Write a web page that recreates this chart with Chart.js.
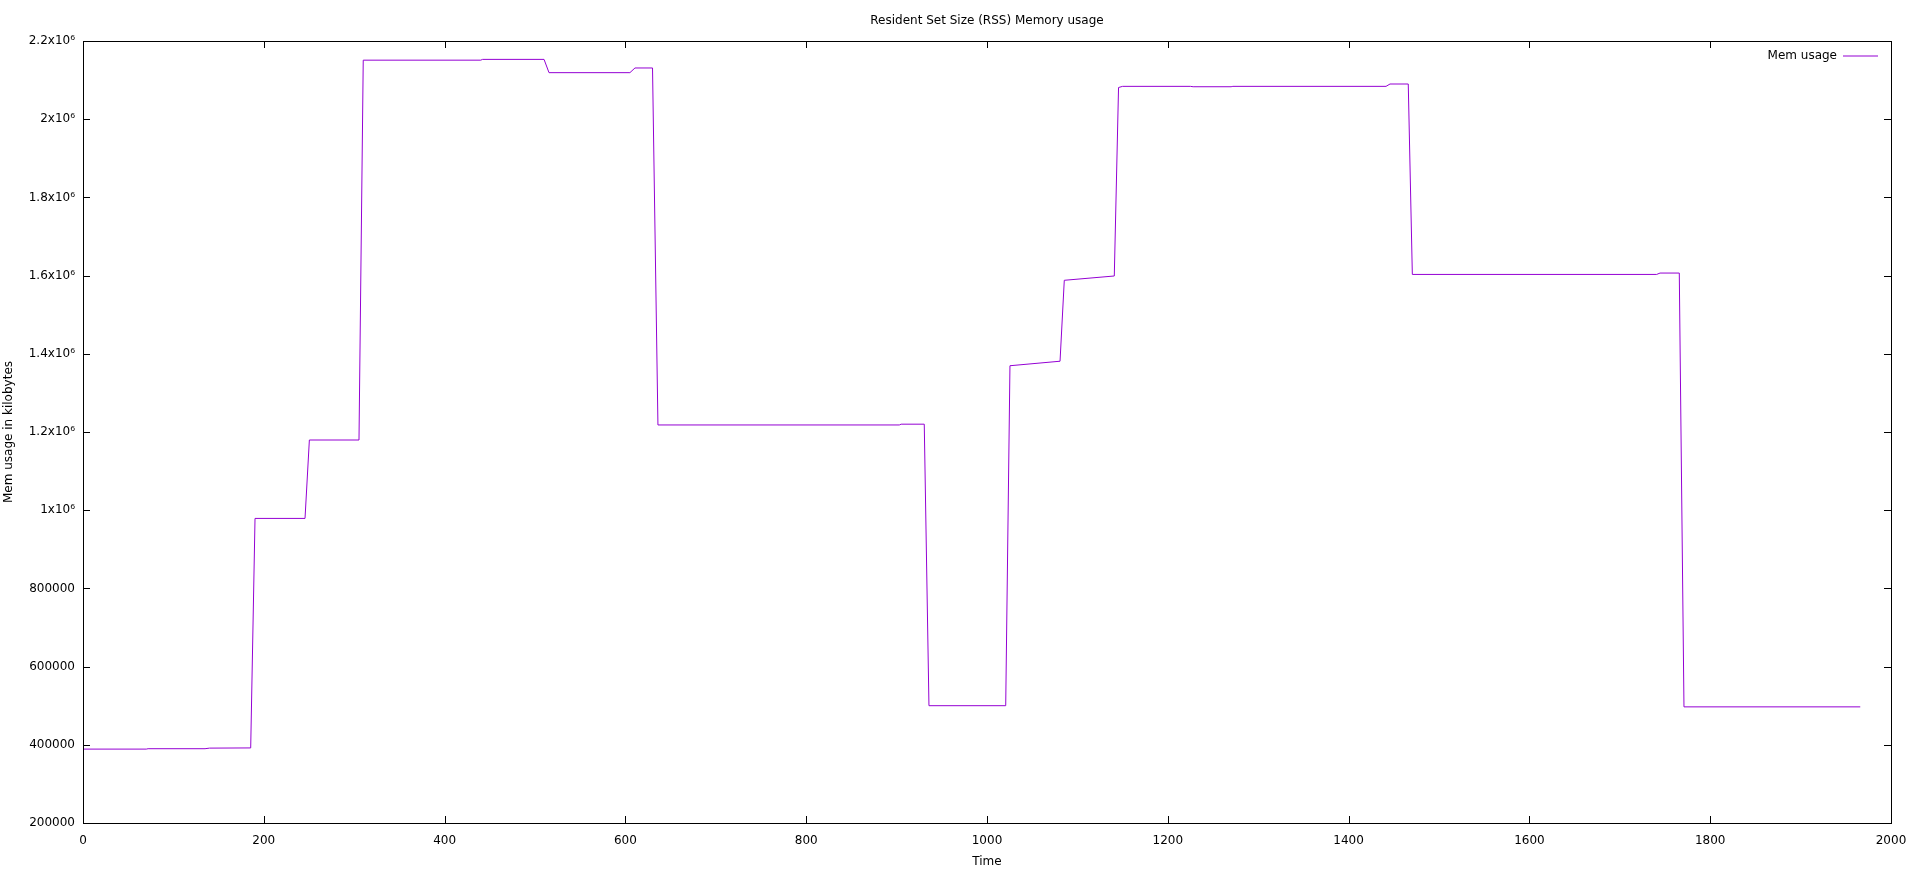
<!DOCTYPE html>
<html>
<head>
<meta charset="utf-8">
<title>Resident Set Size (RSS) Memory usage</title>
<script src="https://cdn.jsdelivr.net/npm/chart.js@4.4.1/dist/chart.umd.min.js"></script>
<style>
  html, body { margin: 0; padding: 0; background: #fff; }
  canvas { display: block; }
</style>
</head>
<body>
<canvas id="rss-chart" width="1910" height="869"></canvas>
<script>
const tiempos = [0, 70, 72, 135, 140, 185.5, 190.3, 245.6, 250.4, 305.3, 310, 440, 442, 510, 515.5,
    605, 610.6, 630, 636, 903, 905, 930.6, 935.8, 1020.7, 1025.4, 1080.8, 1085.5, 1140.8, 1145.5,
    1150, 1225, 1228, 1270, 1272, 1441.4, 1445.8, 1466, 1470.5, 1740.8, 1744.5, 1765.8, 1771, 1966];
const memoria = [389000, 389000, 390000, 390000, 391500, 392000, 979000, 979000, 1179500, 1179500,
    2151000, 2151000, 2153000, 2153000, 2119000, 2119000, 2131000, 2131000, 1218000, 1218000,
    1220000, 1220000, 500000, 500000, 1369500, 1381000, 1588000, 1599000, 2081000, 2084000,
    2084000, 2083000, 2083000, 2084000, 2084000, 2090000, 2090000, 1603000, 1603000, 1606500,
    1606500, 497000, 497000];
const etiquetasX = ['0', '200', '400', '600', '800', '1000', '1200', '1400', '1600', '1800', '2000'];
const etiquetasY = ['200000', '400000', '600000', '800000', '1x10⁶', '1.2x10⁶', '1.4x10⁶',
    '1.6x10⁶', '1.8x10⁶', '2x10⁶', '2.2x10⁶'];

const COLOR_LINEA = '#9400d3';
const FUENTE = { family: 'DejaVu Sans', size: 12 };

Chart.defaults.color = '#000';
Chart.defaults.font.family = 'DejaVu Sans';
Chart.defaults.font.size = 12;

// marco y marcas hacia dentro al estilo gnuplot; leyenda arriba a la derecha
const marco = {
    id: 'marco',
    afterLayout(chart) {
        const lg = chart.legend;
        const a = chart.chartArea;
        if (!lg || !a) return;
        lg.left = a.right - lg.width;
        lg.right = a.right;
        lg.top = a.top - 4;
        lg.bottom = lg.top + lg.height;
    },
    afterDatasetsDraw(chart) {
        const { ctx, chartArea: a, scales: { x, y } } = chart;
        const L = 7;
        ctx.save();
        ctx.strokeStyle = '#000';
        ctx.lineWidth = 1;
        ctx.beginPath();
        x.ticks.forEach(t => {
            const px = Math.round(x.getPixelForValue(t.value)) + 0.5;
            ctx.moveTo(px, a.bottom); ctx.lineTo(px, a.bottom - L);
            ctx.moveTo(px, a.top); ctx.lineTo(px, a.top + L);
        });
        y.ticks.forEach(t => {
            const py = Math.round(y.getPixelForValue(t.value)) + 0.5;
            ctx.moveTo(a.left, py); ctx.lineTo(a.left + L, py);
            ctx.moveTo(a.right, py); ctx.lineTo(a.right - L, py);
        });
        ctx.stroke();
        ctx.strokeRect(Math.round(a.left) + 0.5, Math.round(a.top) + 0.5,
            Math.round(a.right - a.left), Math.round(a.bottom - a.top));
        ctx.restore();
    }
};

const puntos = tiempos.map((t, i) => ({ x: t, y: memoria[i] }));

new Chart(document.getElementById('rss-chart').getContext('2d'), {
    type: 'line',
    data: {
        datasets: [{
            label: 'Mem usage',
            data: puntos,
            borderColor: COLOR_LINEA,
            backgroundColor: COLOR_LINEA,
            borderWidth: 1,
            pointRadius: 0,
            tension: 0,
            fill: false
        }]
    },
    options: {
        responsive: false,
        animation: false,
        layout: { padding: { left: 0, right: 19, top: 0, bottom: 0 } },
        plugins: {
            title: {
                display: true,
                text: 'Resident Set Size (RSS) Memory usage',
                fullSize: false,
                font: { ...FUENTE, weight: 'normal' },
                color: '#000',
                padding: { top: 14, bottom: 12.6 }
            },
            legend: {
                position: 'chartArea',
                align: 'start',
                rtl: true,
                labels: {
                    boxWidth: 35,
                    boxHeight: 1,
                    font: FUENTE,
                    color: '#000',
                    padding: 13,
                    generateLabels(chart) {
                        return Chart.defaults.plugins.legend.labels.generateLabels(chart)
                            .map(l => ({ ...l, lineWidth: 0 }));
                    }
                }
            },
            tooltip: { enabled: false }
        },
        scales: {
            x: {
                type: 'linear',
                min: 0,
                max: 2000,
                grid: { display: false, drawTicks: false },
                border: { display: false },
                ticks: {
                    stepSize: 200,
                    maxRotation: 0,
                    autoSkip: false,
                    padding: 11,
                    font: FUENTE,
                    callback: (v, i) => etiquetasX[i]
                },
                title: { display: true, text: 'Time', font: FUENTE, padding: { top: 0, bottom: 0 } },
                afterFit(scale) {
                    scale.height = 46;
                    scale.paddingLeft = 0;
                    scale.paddingRight = 0;
                }
            },
            y: {
                min: 200000,
                max: 2200000,
                grid: { display: false, drawTicks: false },
                border: { display: false },
                ticks: {
                    stepSize: 200000,
                    padding: 8,
                    font: FUENTE,
                    callback: (v, i) => etiquetasY[i]
                },
                title: { display: true, text: 'Mem usage in kilobytes', font: FUENTE, padding: { top: 2, bottom: 0 } },
                afterFit(scale) { scale.width = 83; }
            }
        }
    },
    plugins: [marco]
});
</script>
</body>
</html>
